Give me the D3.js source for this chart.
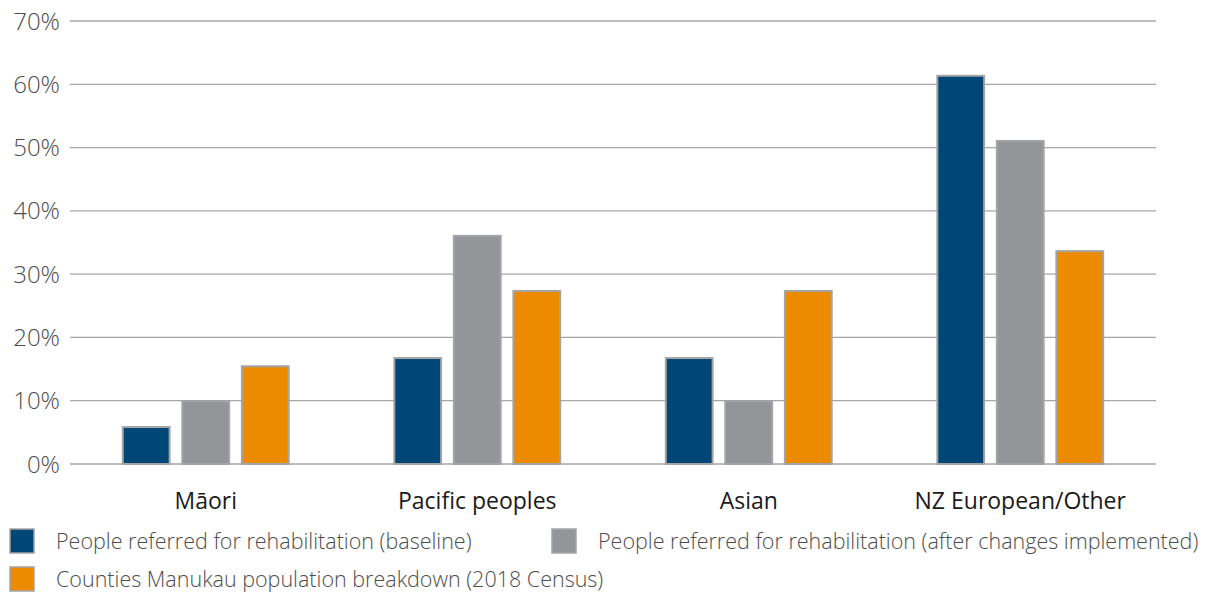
<!DOCTYPE html>
<html>
<head>
<meta charset="utf-8">
<script src="https://cdn.jsdelivr.net/npm/d3@7"></script>
<style>
  html, body { margin: 0; padding: 0; background: #fff; }
  svg { display: block; }
  .tick-label { font-family: "Open Sans", sans-serif; font-weight: 300; font-size: 24px; fill: #4d4d4d; }
  .cat-label { font-family: "Open Sans", sans-serif; font-weight: 400; font-size: 23px; fill: #1a1a1a; }
  .legend-label { font-family: "Open Sans", sans-serif; font-weight: 300; font-size: 21.5px; fill: #4d4d4d; }
</style>
</head>
<body>
<svg id="chart" width="1206" height="592"></svg>
<script>
// Ethnic groups along the x axis
const categories = ["Māori", "Pacific peoples", "Asian", "NZ European/Other"];

// Share of people in each group (%)
const baseline = [6.0, 16.9, 16.9, 61.5];
const afterChanges = [10.1, 36.2, 10.1, 51.2];
const census2018 = [15.6, 27.5, 27.5, 33.8];

const seriesNames = [
  "People referred for rehabilitation (baseline)",
  "People referred for rehabilitation (after changes implemented)",
  "Counties Manukau population breakdown (2018 Census)"
];
const seriesColors = ["#004677", "#939598", "#ec8a00"];
const yTicks = [0, 10, 20, 30, 40, 50, 60, 70];

const svg = d3.select("#chart");
const plotLeft = 70, plotRight = 1156, plotTop = 21, plotBottom = 464;

const x0 = d3.scaleBand().domain(categories).range([plotLeft, plotRight]).padding(0);
const seriesKeys = [0, 1, 2];
const x1 = d3.scaleBand().domain(seriesKeys).range([0, x0.bandwidth()])
  .paddingInner(0.18).paddingOuter(0.87);
const y = d3.scaleLinear().domain([0, 70]).range([plotBottom, plotTop]);

// Horizontal gridlines
svg.append("g").selectAll("line").data(yTicks).join("line")
  .attr("x1", plotLeft).attr("x2", plotRight)
  .attr("y1", d => y(d)).attr("y2", d => y(d))
  .attr("stroke", "#a6a6a6").attr("stroke-width", 1.3);

// Y-axis labels
svg.append("g").selectAll("text").data(yTicks).join("text")
  .attr("class", "tick-label")
  .attr("x", 60).attr("y", d => y(d))
  .attr("dy", "0.36em")
  .attr("text-anchor", "end")
  .text(d => d + "%");

// Bars
const seriesValues = [baseline, afterChanges, census2018];
const groups = svg.append("g").selectAll("g").data(categories).join("g")
  .attr("transform", d => `translate(${x0(d)},0)`);

groups.selectAll("rect")
  .data((d, i) => seriesKeys.map(k => ({ k, v: seriesValues[k][i] })))
  .join("rect")
  .attr("x", d => x1(d.k) + 1)
  .attr("width", x1.bandwidth() - 2)
  .attr("y", d => y(d.v) + 1)
  .attr("height", d => y(0) - y(d.v) - 1)
  .attr("fill", d => seriesColors[d.k])
  .attr("stroke", "#a3a4a7")
  .attr("stroke-width", 2);

// Category labels
svg.append("g").selectAll("text").data(categories).join("text")
  .attr("class", "cat-label")
  .attr("x", d => x0(d) + x0.bandwidth() / 2)
  .attr("y", 509)
  .attr("text-anchor", "middle")
  .text(d => d);

// Legend
const legendItems = [
  { i: 0, x: 10, y: 529 },
  { i: 1, x: 552, y: 529 },
  { i: 2, x: 10, y: 567 }
];
const lg = svg.append("g").selectAll("g").data(legendItems).join("g")
  .attr("transform", d => `translate(${d.x},${d.y})`);
lg.append("rect")
  .attr("x", 0).attr("y", 0).attr("width", 24).attr("height", 24)
  .attr("fill", d => seriesColors[d.i])
  .attr("stroke", "#a3a4a7").attr("stroke-width", 1.5);
lg.append("text")
  .attr("class", "legend-label")
  .attr("x", 46).attr("y", 20)
  .text(d => seriesNames[d.i]);
</script>
</body>
</html>
